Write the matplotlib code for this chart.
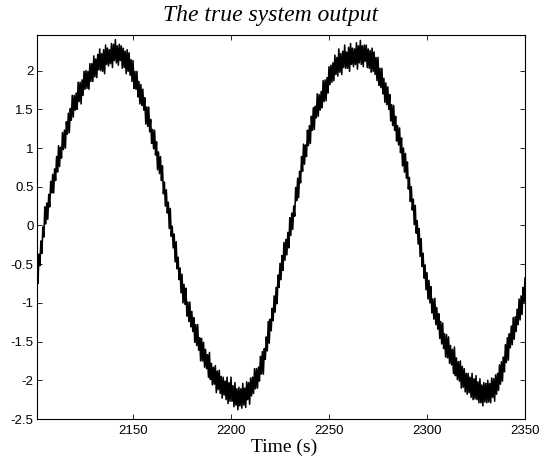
import matplotlib
matplotlib.use("Agg")
import matplotlib.pyplot as plt
import numpy as np
from matplotlib.ticker import FormatStrFormatter

plt.rcParams["axes.unicode_minus"] = False

# samples every half second, 2101 .. 2350 s
t = np.arange(2101, 2350.5, 0.5)

# slow part of the output (5 s per row)
level = [
    -0.74, -0.64, -0.54, -0.43, -0.32, -0.21, -0.10, -0.02, 0.06, 0.12,
    0.18, 0.24, 0.30, 0.36, 0.42, 0.48, 0.53, 0.59, 0.64, 0.69,
    0.74, 0.79, 0.84, 0.89, 0.94, 0.99, 1.04, 1.09, 1.13, 1.18,
    1.22, 1.27, 1.31, 1.36, 1.40, 1.44, 1.48, 1.52, 1.55, 1.59,
    1.62, 1.65, 1.68, 1.71, 1.73, 1.76, 1.78, 1.81, 1.83, 1.85,
    1.87, 1.89, 1.91, 1.93, 1.94, 1.96, 1.98, 2.00, 2.01, 2.03,
    2.05, 2.07, 2.08, 2.10, 2.11, 2.12, 2.13, 2.14, 2.15, 2.16,
    2.17, 2.18, 2.18, 2.19, 2.19, 2.20, 2.20, 2.21, 2.21, 2.22,
    2.22, 2.22, 2.22, 2.22, 2.21, 2.21, 2.20, 2.19, 2.18, 2.17,
    2.16, 2.14, 2.12, 2.10, 2.07, 2.04, 2.01, 1.98, 1.94, 1.91,
    1.88, 1.85, 1.82, 1.79, 1.76, 1.73, 1.70, 1.66, 1.61, 1.57,
    1.52, 1.48, 1.44, 1.40, 1.35, 1.31, 1.26, 1.21, 1.16, 1.12,
    1.07, 1.02, 0.96, 0.91, 0.85, 0.80, 0.74, 0.67, 0.60, 0.53,
    0.46, 0.40, 0.33, 0.26, 0.19, 0.13, 0.06, -0.02, -0.10, -0.18,
    -0.26, -0.34, -0.41, -0.47, -0.53, -0.59, -0.65, -0.71, -0.76, -0.82,
    -0.87, -0.92, -0.97, -1.02, -1.07, -1.12, -1.16, -1.20, -1.24, -1.28,
    -1.31, -1.35, -1.38, -1.42, -1.46, -1.50, -1.54, -1.58, -1.61, -1.65,
    -1.68, -1.71, -1.73, -1.76, -1.78, -1.81, -1.83, -1.86, -1.88, -1.90,
    -1.92, -1.94, -1.96, -1.98, -2.00, -2.02, -2.03, -2.05, -2.06, -2.08,
    -2.09, -2.10, -2.11, -2.12, -2.13, -2.14, -2.15, -2.16, -2.16, -2.17,
    -2.18, -2.19, -2.19, -2.20, -2.20, -2.21, -2.22, -2.23, -2.23, -2.23,
    -2.22, -2.21, -2.20, -2.19, -2.17, -2.16, -2.14, -2.12, -2.10, -2.08,
    -2.06, -2.04, -2.02, -2.00, -1.97, -1.95, -1.92, -1.89, -1.85, -1.82,
    -1.78, -1.74, -1.70, -1.64, -1.57, -1.50, -1.43, -1.37, -1.31, -1.25,
    -1.19, -1.13, -1.07, -0.99, -0.91, -0.84, -0.77, -0.71, -0.64, -0.58,
    -0.52, -0.46, -0.40, -0.35, -0.29, -0.24, -0.18, -0.13, -0.07, -0.02,
    0.04, 0.10, 0.16, 0.25, 0.33, 0.40, 0.47, 0.54, 0.60, 0.67,
    0.73, 0.79, 0.85, 0.91, 0.96, 1.02, 1.08, 1.13, 1.18, 1.23,
    1.28, 1.33, 1.37, 1.41, 1.44, 1.48, 1.51, 1.54, 1.57, 1.60,
    1.63, 1.66, 1.69, 1.72, 1.75, 1.79, 1.82, 1.85, 1.88, 1.92,
    1.95, 1.98, 2.01, 2.03, 2.04, 2.06, 2.07, 2.08, 2.09, 2.10,
    2.11, 2.12, 2.13, 2.14, 2.15, 2.16, 2.16, 2.17, 2.17, 2.18,
    2.18, 2.19, 2.19, 2.19, 2.19, 2.20, 2.20, 2.20, 2.20, 2.20,
    2.20, 2.21, 2.21, 2.21, 2.21, 2.21, 2.20, 2.19, 2.18, 2.17,
    2.16, 2.15, 2.13, 2.11, 2.09, 2.06, 2.03, 2.00, 1.97, 1.94,
    1.91, 1.88, 1.85, 1.82, 1.79, 1.76, 1.73, 1.68, 1.63, 1.59,
    1.55, 1.51, 1.46, 1.42, 1.38, 1.34, 1.29, 1.25, 1.20, 1.16,
    1.11, 1.06, 1.00, 0.95, 0.89, 0.83, 0.77, 0.71, 0.64, 0.58,
    0.51, 0.45, 0.38, 0.31, 0.24, 0.17, 0.09, 0.03, -0.04, -0.12,
    -0.20, -0.28, -0.36, -0.43, -0.49, -0.56, -0.62, -0.68, -0.73, -0.78,
    -0.83, -0.89, -0.94, -0.99, -1.04, -1.08, -1.12, -1.16, -1.20, -1.24,
    -1.27, -1.31, -1.35, -1.39, -1.43, -1.47, -1.50, -1.54, -1.57, -1.60,
    -1.62, -1.65, -1.67, -1.70, -1.72, -1.75, -1.77, -1.80, -1.82, -1.84,
    -1.86, -1.89, -1.91, -1.93, -1.95, -1.98, -2.00, -2.02, -2.03, -2.04,
    -2.05, -2.06, -2.07, -2.08, -2.09, -2.10, -2.11, -2.12, -2.13, -2.14,
    -2.14, -2.15, -2.15, -2.16, -2.16, -2.17, -2.17, -2.17, -2.17, -2.17,
    -2.17, -2.16, -2.15, -2.14, -2.13, -2.12, -2.10, -2.09, -2.07, -2.05,
    -2.02, -1.99, -1.96, -1.93, -1.89, -1.85, -1.80, -1.76, -1.71, -1.66,
    -1.61, -1.57, -1.52, -1.48, -1.44, -1.41, -1.37, -1.33, -1.29, -1.25,
    -1.21, -1.17, -1.12, -1.08, -1.03, -0.99, -0.94, -0.89, -0.83,
]

# fast jitter riding on top of it
ripple = [
    0.14, -0.11, 0.17, -0.09, 0.12, -0.15, 0.08, -0.13, 0.18, -0.10,
    0.11, -0.16, 0.10, -0.12, 0.15, -0.06, 0.13, -0.17, 0.09, -0.11,
    0.15, -0.10, 0.19, -0.13, 0.07, -0.12, 0.16, -0.11, 0.10, -0.18,
    0.12, -0.09, 0.14, -0.16, 0.11, -0.08, 0.20, -0.12, 0.13, -0.10,
    0.09, -0.15, 0.17, -0.11, 0.12, -0.19, 0.10, -0.13, 0.16, -0.09,
    0.13, -0.12, 0.08, -0.17, 0.15, -0.10, 0.11, -0.14, 0.18, -0.11,
    0.10, -0.16, 0.13, -0.09, 0.17, -0.12, 0.09, -0.15, 0.12, -0.20,
    0.16, -0.10, 0.11, -0.13, 0.08, -0.11, 0.15, -0.17, 0.13, -0.09,
    0.18, -0.12, 0.10, -0.15, 0.13, -0.08, 0.12, -0.16, 0.11, -0.13,
    0.09, -0.18, 0.15, -0.11, 0.16, -0.10, 0.13, -0.12, 0.19, -0.14,
    0.11, -0.09, 0.17, -0.13, 0.10, -0.16, 0.12, -0.11, 0.15, -0.08,
    0.13, -0.17, 0.09, -0.12, 0.18, -0.10, 0.11, -0.15, 0.08, -0.13,
    0.16, -0.11, 0.12, -0.19, 0.10, -0.13, 0.15, -0.09, 0.17, -0.12,
    0.10, -0.15, 0.13, -0.10, 0.11, -0.17, 0.16, -0.12, 0.09, -0.11,
    0.15, -0.13, 0.20, -0.09, 0.12, -0.11, 0.10, -0.16, 0.13, -0.18,
    0.11, -0.10, 0.16, -0.15, 0.08, -0.12, 0.17, -0.11, 0.13, -0.09,
    0.12, -0.16, 0.10, -0.13, 0.18, -0.11, 0.09, -0.17, 0.15, -0.10,
    0.17, -0.12, 0.13, -0.09, 0.11, -0.15, 0.19, -0.13, 0.10, -0.16,
    0.09, -0.11, 0.15, -0.18, 0.12, -0.10, 0.16, -0.12, 0.11, -0.15,
    0.13, -0.09, 0.10, -0.13, 0.17, -0.16, 0.12, -0.11, 0.20, -0.10,
    0.11, -0.15, 0.16, -0.12, 0.09, -0.17, 0.13, -0.10, 0.12, -0.13,
    0.18, -0.11, 0.10, -0.16, 0.15, -0.09, 0.11, -0.19, 0.13, -0.12,
    0.10, -0.13, 0.17, -0.11, 0.12, -0.15, 0.09, -0.12, 0.16, -0.10,
    0.15, -0.18, 0.11, -0.09, 0.13, -0.12, 0.19, -0.15, 0.10, -0.11,
    0.12, -0.10, 0.16, -0.13, 0.11, -0.17, 0.13, -0.09, 0.15, -0.12,
    0.13, -0.12, 0.18, -0.10, 0.11, -0.14, 0.09, -0.16, 0.17, -0.11,
    0.12, -0.15, 0.09, -0.13, 0.16, -0.08, 0.14, -0.18, 0.10, -0.12,
    0.16, -0.09, 0.20, -0.12, 0.08, -0.13, 0.15, -0.10, 0.11, -0.17,
    0.13, -0.10, 0.15, -0.17, 0.10, -0.09, 0.19, -0.13, 0.12, -0.11,
    0.10, -0.14, 0.18, -0.12, 0.13, -0.18, 0.09, -0.14, 0.17, -0.10,
    0.12, -0.13, 0.09, -0.16, 0.16, -0.11, 0.10, -0.15, 0.19, -0.12,
    0.11, -0.17, 0.12, -0.10, 0.18, -0.13, 0.08, -0.14, 0.13, -0.19,
    0.17, -0.11, 0.10, -0.14, 0.09, -0.12, 0.16, -0.18, 0.12, -0.10,
    0.19, -0.13, 0.11, -0.16, 0.12, -0.09, 0.13, -0.15, 0.10, -0.14,
    0.10, -0.17, 0.16, -0.12, 0.15, -0.11, 0.14, -0.13, 0.20, -0.13,
    0.12, -0.10, 0.18, -0.12, 0.11, -0.17, 0.11, -0.12, 0.16, -0.09,
    0.14, -0.16, 0.10, -0.13, 0.17, -0.11, 0.12, -0.16, 0.09, -0.12,
    0.15, -0.12, 0.13, -0.18, 0.11, -0.14, 0.16, -0.10, 0.18, -0.11,
    0.11, -0.14, 0.12, -0.11, 0.10, -0.16, 0.17, -0.13, 0.10, -0.12,
    0.16, -0.12, 0.19, -0.10, 0.13, -0.12, 0.11, -0.15, 0.12, -0.17,
    0.12, -0.11, 0.15, -0.14, 0.09, -0.13, 0.18, -0.12, 0.14, -0.10,
    0.13, -0.15, 0.11, -0.14, 0.17, -0.12, 0.10, -0.16, 0.16, -0.11,
    0.18, -0.13, 0.12, -0.10, 0.12, -0.16, 0.20, -0.14, 0.11, -0.15,
    0.10, -0.12, 0.16, -0.17, 0.13, -0.11, 0.15, -0.13, 0.12, -0.14,
    0.14, -0.10, 0.11, -0.14, 0.18, -0.15, 0.13, -0.12, 0.19, -0.11,
    0.12, -0.14, 0.17, -0.13, 0.10, -0.16, 0.14, -0.11, 0.13, -0.12,
    0.17, -0.12, 0.11, -0.15, 0.16, -0.10, 0.12, -0.18, 0.14, -0.13,
    0.11, -0.14, 0.16, -0.12, 0.13, -0.16, 0.10, -0.13, 0.17, -0.11,
    0.16, -0.17, 0.12, -0.10, 0.14, -0.13, 0.18, -0.14, 0.11, -0.12,
    0.13, -0.11, 0.17, -0.14, 0.12, -0.16, 0.14, -0.10, 0.15,
]

xticks = [2150, 2200, 2250, 2300, 2350]
yticks = [-2.5, -2, -1.5, -1, -0.5, 0, 0.5, 1, 1.5, 2]

y = np.array(level) + np.array(ripple)

fig = plt.figure(figsize=(5.4, 4.63), dpi=100)
ax = fig.add_axes([0.0685, 0.095, 0.9037, 0.8294])
ax.plot(t, y, color="black", lw=1.15)

ax.set_xlim(t[0], t[-1])
ax.set_ylim(-2.5, 2.46)
ax.set_xticks(xticks)
ax.set_yticks(yticks)
ax.yaxis.set_major_formatter(FormatStrFormatter("%g"))
ax.tick_params(direction="in", top=True, right=True, length=3.5, width=0.6,
               labelsize=9.5)
ax.tick_params(axis="x", pad=4)
ax.tick_params(axis="y", pad=2.5)
for lab in ax.get_xticklabels() + ax.get_yticklabels():
    lab.set_family("Liberation Sans")
for s in ax.spines.values():
    s.set_linewidth(0.8)

fig.text(271 / 540, 1 - 20.7 / 463, "The true system output", ha="center",
         va="baseline", family="Liberation Serif", style="italic", fontsize=17)
fig.text(283.7 / 540, 1 - 451.7 / 463, "Time (s)", ha="center", va="baseline",
         family="Liberation Serif", fontsize=14)

fig.savefig("out.png", dpi=100)
